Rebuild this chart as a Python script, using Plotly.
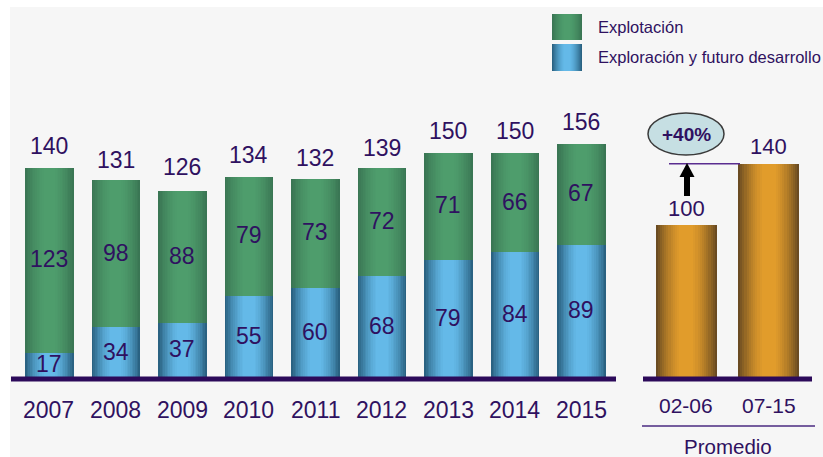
import plotly.graph_objects as go

# ---------------- data ----------------
years = ["2007", "2008", "2009", "2010", "2011", "2012", "2013", "2014", "2015"]
exploracion = [17, 34, 37, 55, 60, 68, 79, 84, 89]
explotacion = [123, 98, 88, 79, 73, 72, 71, 66, 67]
totales = [140, 131, 126, 134, 132, 139, 150, 150, 156]
periodos = ["02-06", "07-15"]
promedio = [100, 140]
incremento = "+40%"
legend_labels = ["Explotación", "Exploración y futuro desarrollo"]
promedio_label = "Promedio"

# ---------------- style ----------------
W, H = 823, 457
BASE_PX = 378
TXT = "#2f1160"
LINE = "#2c0a5a"
FONT = "Liberation Sans, Arial, sans-serif"

GREEN = ((0x3a, 0x76, 0x54), (0x50, 0xa0, 0x6e))
BLUE = ((0x2a, 0x62, 0x82), (0x68, 0xc0, 0xf0))
ORANGE = ((0x6a, 0x4b, 0x22), (0xea, 0xa2, 0x2c))


def px(x):
    return x / W


def py(y):
    return (BASE_PX - y) / BASE_PX


def mix(pair, t):
    a, b = pair
    return "rgb(%d,%d,%d)" % tuple(round(a[i] + (b[i] - a[i]) * t) for i in range(3))


FRACS = [1.0, 0.93, 0.86, 0.79, 0.72, 0.65, 0.58, 0.51, 0.44, 0.37, 0.3, 0.23]


def tval(f):
    return 1 - f ** 1.8


fig = go.Figure()


def add_grad_bars(x, y, base, width, pair, xaxis, yaxis):
    for f in FRACS:
        fig.add_trace(go.Bar(
            x=x, y=y, base=base, width=width * f,
            marker=dict(color=mix(pair, tval(f)), line=dict(width=0)),
            xaxis=xaxis, yaxis=yaxis, showlegend=False, hoverinfo="skip"))


W_L = 0.73
W_R = 0.745
add_grad_bars(years, exploracion, [0] * len(years), W_L, BLUE, "x", "y")
add_grad_bars(years, explotacion, exploracion, W_L, GREEN, "x", "y")
add_grad_bars(periodos, promedio, [0] * len(periodos), W_R, ORANGE, "x2", "y2")

ann = []
shapes = []

# background
shapes.append(dict(type="rect", xref="paper", yref="paper", x0=px(10), x1=1.0,
                   y0=py(H), y1=py(7), fillcolor="#f6f6f6", line=dict(width=0), layer="below"))

NUM = dict(family=FONT, size=23, color=TXT)
# labels inside / above bars and category labels (category index positions)
for i, (yr, b, g, t) in enumerate(zip(years, exploracion, explotacion, totales)):
    ann.append(dict(x=i, y=b / 2, xref="x", yref="y", text=str(b), showarrow=False,
                    font=NUM, yanchor="middle", yshift=1))
    ann.append(dict(x=i, y=b + g / 2, xref="x", yref="y", text=str(g), showarrow=False,
                    font=NUM, yanchor="middle", yshift=1))
    ann.append(dict(x=i, y=t, xref="x", yref="y", text=str(t), showarrow=False,
                    font=NUM, yanchor="middle", yshift=22))
    ann.append(dict(x=i, y=0, xref="x", yref="paper", text=yr, showarrow=False,
                    font=NUM, yanchor="middle", yshift=-32))

for i, (p, v) in enumerate(zip(periodos, promedio)):
    ann.append(dict(x=i, y=v, xref="x2", yref="y2", text=str(v), showarrow=False,
                    font=dict(family=FONT, size=22, color=TXT), yanchor="middle", yshift=17))
    ann.append(dict(x=i, y=0, xref="x2", yref="paper", text=p, showarrow=False,
                    font=dict(family=FONT, size=21, color=TXT), yanchor="middle", yshift=-27))

ann.append(dict(x=px(728), y=py(446), xref="paper", yref="paper", text=promedio_label,
                showarrow=False, font=dict(family=FONT, size=20.5, color=TXT),
                xanchor="center", yanchor="middle"))

# +40% bubble
shapes.append(dict(type="circle", xref="paper", yref="paper", x0=px(648), x1=px(724),
                   y0=py(155), y1=py(113), fillcolor="#c6dfe3", line=dict(color="#3a3a3a", width=1.5)))
ann.append(dict(x=px(686), y=py(134), xref="paper", yref="paper", text="<b>%s</b>" % incremento,
                showarrow=False, font=dict(family=FONT, size=19, color=TXT),
                xanchor="center", yanchor="middle"))

# reference line at 140 level
shapes.append(dict(type="line", xref="paper", yref="y2", x0=px(669), x1=px(740),
                   y0=promedio[1], y1=promedio[1], line=dict(color="#5a2d90", width=1.5)))

# arrow
shapes.append(dict(type="rect", xref="paper", yref="paper", x0=px(684), x1=px(690),
                   y0=py(196), y1=py(176), fillcolor="black", line=dict(width=0)))
shapes.append(dict(type="path", xref="paper", yref="paper",
                   path="M %f %f L %f %f L %f %f Z" % (px(679.5), py(177), px(694.5), py(177), px(687), py(163)),
                   fillcolor="black", line=dict(width=0)))

# baselines
shapes.append(dict(type="line", xref="paper", yref="paper", x0=px(11), x1=px(616),
                   y0=py(379), y1=py(379), line=dict(color=LINE, width=5)))
shapes.append(dict(type="line", xref="paper", yref="paper", x0=px(643), x1=px(812),
                   y0=py(379), y1=py(379), line=dict(color=LINE, width=5)))
# Promedio underline
shapes.append(dict(type="line", xref="paper", yref="paper", x0=px(642), x1=px(815),
                   y0=py(426), y1=py(426), line=dict(color="#4a2a80", width=1.5)))

# legend
for i, (lab, pair) in enumerate(zip(legend_labels, [GREEN, BLUE])):
    y0, y1 = (14, 40) if i == 0 else (44, 71)
    cx, hw = 567, 15
    for f in FRACS:
        shapes.append(dict(type="rect", xref="paper", yref="paper",
                           x0=px(cx - hw * f), x1=px(cx + hw * f), y0=py(y1), y1=py(y0),
                           fillcolor=mix(pair, tval(f)), line=dict(width=0)))
    ann.append(dict(x=px(596), y=py((y0 + y1) / 2), xref="paper", yref="paper", text=lab,
                    showarrow=False, font=dict(family=FONT, size=16.5, color=TXT),
                    xanchor="left", yanchor="middle"))

fig.update_layout(
    width=W, height=H,
    margin=dict(l=0, r=0, t=0, b=H - BASE_PX, pad=0),
    paper_bgcolor="white", plot_bgcolor="rgba(0,0,0,0)",
    barmode="overlay", bargap=0,
    showlegend=False,
    xaxis=dict(domain=[px(15.7), px(614.7)], range=[-0.5, 8.5], type="category",
               visible=False, anchor="y"),
    yaxis=dict(domain=[0, 1], range=[0, BASE_PX / 1.5], visible=False, anchor="x"),
    xaxis2=dict(domain=[px(644.75), px(809.75)], range=[-0.5, 1.5], type="category",
                visible=False, anchor="y2"),
    yaxis2=dict(domain=[0, 1], range=[0, BASE_PX / 1.53], visible=False, anchor="x2"),
    annotations=ann,
    shapes=shapes,
)

fig.write_html("out.html", config={"displayModeBar": False},
               post_script="document.body.style.margin='0';document.body.style.overflow='hidden';")
